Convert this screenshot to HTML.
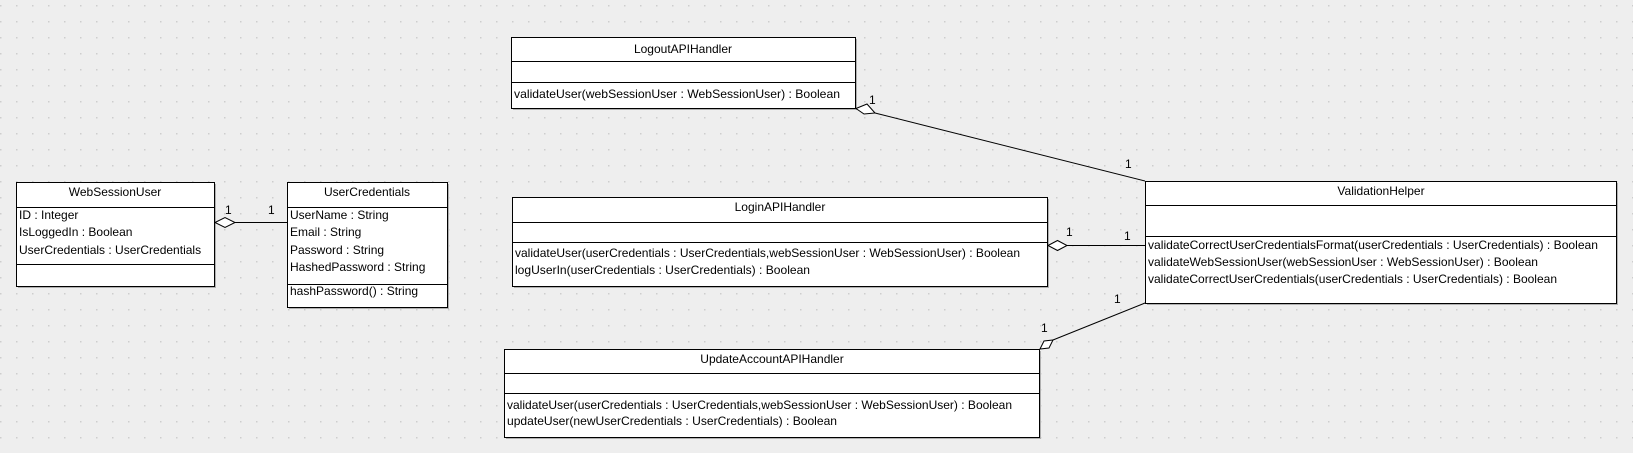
<!DOCTYPE html>
<html><head><meta charset="utf-8"><style>
html,body{margin:0;padding:0;background:#eeeeee;}
svg{display:block}
text{font-family:"Liberation Sans",Arial,sans-serif;font-size:12px;fill:#000}
</style></head><body>
<svg width="1633" height="453" viewBox="0 0 1633 453" xmlns="http://www.w3.org/2000/svg">
<defs>
<pattern id="g" x="0" y="5" width="16" height="16" patternUnits="userSpaceOnUse">
<rect x="0" y="0" width="1.5" height="1.5" fill="#cdcdcd"/>
</pattern>
</defs>
<rect width="1633" height="453" fill="#eeeeee"/>
<rect width="1633" height="453" fill="url(#g)"/>

<!-- shadows -->
<g fill="#b0b0b0" shape-rendering="crispEdges">
<rect x="18" y="184" width="198" height="104"/>
<rect x="289" y="184" width="160" height="125"/>
<rect x="513" y="39" width="344" height="71"/>
<rect x="514" y="199" width="535" height="89"/>
<rect x="506" y="351" width="535" height="88"/>
<rect x="1147" y="183" width="471" height="122"/>
</g>

<g stroke="#000" stroke-width="1" fill="#fff" shape-rendering="crispEdges">
<rect x="16.5" y="182.5" width="198" height="104"/>
<line x1="16" y1="207.5" x2="215" y2="207.5"/>
<line x1="16" y1="264.5" x2="215" y2="264.5"/>
<rect x="287.5" y="182.5" width="160" height="125"/>
<line x1="287" y1="207.5" x2="448" y2="207.5"/>
<line x1="287" y1="284.5" x2="448" y2="284.5"/>
<rect x="511.5" y="37.5" width="344" height="71"/>
<line x1="511" y1="61.5" x2="856" y2="61.5"/>
<line x1="511" y1="82.5" x2="856" y2="82.5"/>
<rect x="512.5" y="197.5" width="535" height="89"/>
<line x1="512" y1="222.5" x2="1048" y2="222.5"/>
<line x1="512" y1="242.5" x2="1048" y2="242.5"/>
<rect x="504.5" y="349.5" width="535" height="88"/>
<line x1="504" y1="373.5" x2="1040" y2="373.5"/>
<line x1="504" y1="393.5" x2="1040" y2="393.5"/>
<rect x="1145.5" y="181.5" width="471" height="122"/>
<line x1="1145" y1="205.5" x2="1617" y2="205.5"/>
<line x1="1145" y1="236.5" x2="1617" y2="236.5"/>
</g>

<g stroke="#000" stroke-width="1" fill="#fff">
<line x1="235" y1="222.5" x2="287" y2="222.5"/>
<polygon points="215,222.5 225,217.5 235,222.5 225,227.5"/>
<line x1="875" y1="113" x2="1145" y2="181"/>
<polygon points="856,108.5 867,104 875,113 864,114"/>
<line x1="1067" y1="245.5" x2="1145" y2="245.5"/>
<polygon points="1048,245.5 1057.5,240.5 1067,245.5 1057.5,250.5"/>
<line x1="1053" y1="340" x2="1145" y2="303"/>
<polygon points="1040,349 1044,341 1053,340 1049,348"/>
</g>

<text x="225" y="214">1</text>
<text x="268" y="214">1</text>
<text x="869" y="104">1</text>
<text x="1125" y="168">1</text>
<text x="1066" y="236">1</text>
<text x="1124" y="240">1</text>
<text x="1041" y="332">1</text>
<text x="1114" y="303">1</text>

<text x="115" y="196" text-anchor="middle">WebSessionUser</text>
<text x="19" y="219">ID : Integer</text>
<text x="19" y="236">IsLoggedIn : Boolean</text>
<text x="19" y="254">UserCredentials : UserCredentials</text>
<text x="367" y="196" text-anchor="middle">UserCredentials</text>
<text x="290" y="219">UserName : String</text>
<text x="290" y="236">Email : String</text>
<text x="290" y="254">Password : String</text>
<text x="290" y="271">HashedPassword : String</text>
<text x="290" y="295">hashPassword() : String</text>
<text x="683" y="53" text-anchor="middle">LogoutAPIHandler</text>
<text x="514" y="98" textLength="326" lengthAdjust="spacingAndGlyphs">validateUser(webSessionUser : WebSessionUser) : Boolean</text>
<text x="780" y="211" text-anchor="middle">LoginAPIHandler</text>
<text x="515" y="257" textLength="505" lengthAdjust="spacingAndGlyphs">validateUser(userCredentials : UserCredentials,webSessionUser : WebSessionUser) : Boolean</text>
<text x="515" y="274" textLength="295" lengthAdjust="spacingAndGlyphs">logUserIn(userCredentials : UserCredentials) : Boolean</text>
<text x="772" y="363" text-anchor="middle">UpdateAccountAPIHandler</text>
<text x="507" y="409" textLength="505" lengthAdjust="spacingAndGlyphs">validateUser(userCredentials : UserCredentials,webSessionUser : WebSessionUser) : Boolean</text>
<text x="507" y="425" textLength="330" lengthAdjust="spacingAndGlyphs">updateUser(newUserCredentials : UserCredentials) : Boolean</text>
<text x="1381" y="195" text-anchor="middle">ValidationHelper</text>
<text x="1148" y="249" textLength="450" lengthAdjust="spacingAndGlyphs">validateCorrectUserCredentialsFormat(userCredentials : UserCredentials) : Boolean</text>
<text x="1148" y="266" textLength="390" lengthAdjust="spacingAndGlyphs">validateWebSessionUser(webSessionUser : WebSessionUser) : Boolean</text>
<text x="1148" y="283" textLength="409" lengthAdjust="spacingAndGlyphs">validateCorrectUserCredentials(userCredentials : UserCredentials) : Boolean</text>
</svg>
</body></html>
